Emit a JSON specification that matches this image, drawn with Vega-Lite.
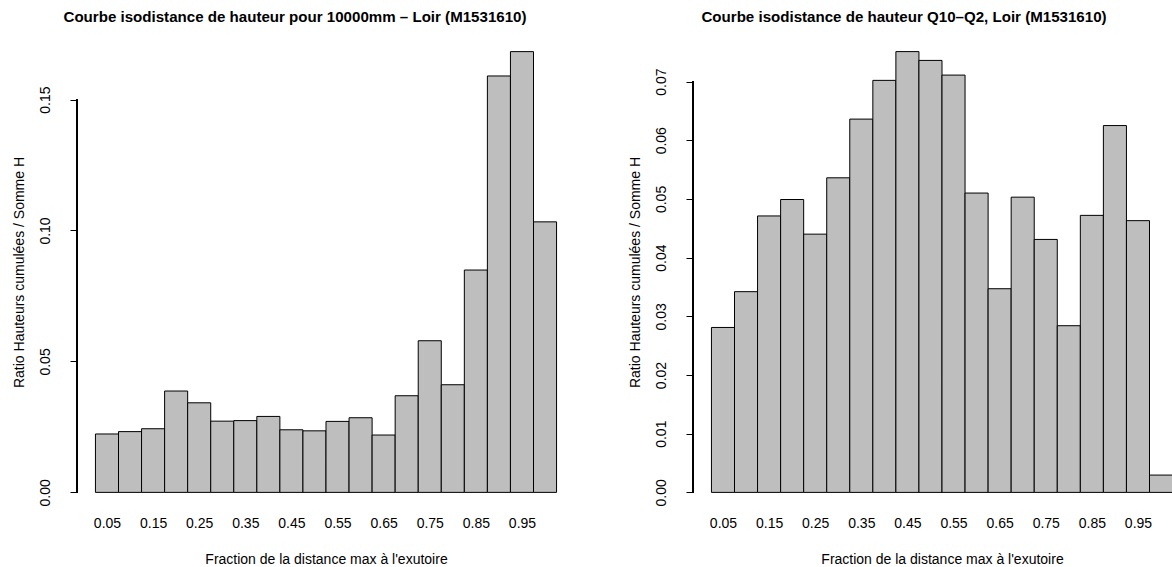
{
  "$schema": "https://vega.github.io/schema/vega-lite/v6.json",
  "background": "white",
  "padding": {"left": 12, "top": 9, "right": 0, "bottom": 0},
  "config": {
    "view": {"stroke": null},
    "font": "Liberation Sans",
    "axis": {"labelFont": "Liberation Sans", "labelFontSize": 14, "labelColor": "black", "titleFont": "Liberation Sans", "titleFontSize": 14, "titleFontWeight": "normal", "titleColor": "black", "tickColor": "black", "tickWidth": 1, "domainColor": "black", "grid": false, "labelOverlap": false, "labelFlush": false},
    "title": {"font": "Liberation Sans", "fontSize": 15.1, "fontWeight": "bold", "color": "black", "anchor": "middle"},
    "concat": {"spacing": 52}
  },
  "datasets": {
    "h10000": [
      {"from": 0.00, "to": 0.05, "ratio": 0.0223},
      {"from": 0.05, "to": 0.10, "ratio": 0.0232},
      {"from": 0.10, "to": 0.15, "ratio": 0.0243},
      {"from": 0.15, "to": 0.20, "ratio": 0.0387},
      {"from": 0.20, "to": 0.25, "ratio": 0.0342},
      {"from": 0.25, "to": 0.30, "ratio": 0.0272},
      {"from": 0.30, "to": 0.35, "ratio": 0.0274},
      {"from": 0.35, "to": 0.40, "ratio": 0.0290},
      {"from": 0.40, "to": 0.45, "ratio": 0.0239},
      {"from": 0.45, "to": 0.50, "ratio": 0.0235},
      {"from": 0.50, "to": 0.55, "ratio": 0.0271},
      {"from": 0.55, "to": 0.60, "ratio": 0.0285},
      {"from": 0.60, "to": 0.65, "ratio": 0.0219},
      {"from": 0.65, "to": 0.70, "ratio": 0.0369},
      {"from": 0.70, "to": 0.75, "ratio": 0.0579},
      {"from": 0.75, "to": 0.80, "ratio": 0.0411},
      {"from": 0.80, "to": 0.85, "ratio": 0.0849},
      {"from": 0.85, "to": 0.90, "ratio": 0.1590},
      {"from": 0.90, "to": 0.95, "ratio": 0.1683},
      {"from": 0.95, "to": 1.00, "ratio": 0.1033}
    ],
    "q10q2": [
      {"from": 0.00, "to": 0.05, "ratio": 0.0281},
      {"from": 0.05, "to": 0.10, "ratio": 0.0342},
      {"from": 0.10, "to": 0.15, "ratio": 0.0471},
      {"from": 0.15, "to": 0.20, "ratio": 0.0499},
      {"from": 0.20, "to": 0.25, "ratio": 0.0440},
      {"from": 0.25, "to": 0.30, "ratio": 0.0536},
      {"from": 0.30, "to": 0.35, "ratio": 0.0636},
      {"from": 0.35, "to": 0.40, "ratio": 0.0702},
      {"from": 0.40, "to": 0.45, "ratio": 0.0751},
      {"from": 0.45, "to": 0.50, "ratio": 0.0736},
      {"from": 0.50, "to": 0.55, "ratio": 0.0711},
      {"from": 0.55, "to": 0.60, "ratio": 0.0510},
      {"from": 0.60, "to": 0.65, "ratio": 0.0347},
      {"from": 0.65, "to": 0.70, "ratio": 0.0503},
      {"from": 0.70, "to": 0.75, "ratio": 0.0431},
      {"from": 0.75, "to": 0.80, "ratio": 0.0284},
      {"from": 0.80, "to": 0.85, "ratio": 0.0472},
      {"from": 0.85, "to": 0.90, "ratio": 0.0625},
      {"from": 0.90, "to": 0.95, "ratio": 0.0463},
      {"from": 0.95, "to": 1.00, "ratio": 0.00295}
    ]
  },
  "hconcat": [
    {
      "width": 498,
      "height": 476,
      "title": {"text": "Courbe isodistance de hauteur pour 10000mm – Loir (M1531610)", "offset": -3, "baseline": "alphabetic", "dx": -31},
      "data": {"name": "h10000"},
      "layer": [
        {
          "mark": {"type": "bar", "fill": "#BEBEBE", "stroke": "black", "strokeWidth": 1},
          "encoding": {
            "x": {"field": "from", "type": "quantitative", "scale": {"domain": [-0.04, 1.04], "nice": false, "zero": false},
              "axis": {"values": [0.025, 0.125, 0.225, 0.325, 0.425, 0.525, 0.625, 0.725, 0.825, 0.925], "labelExpr": "format(datum.value + 0.025, '.2f')", "domain": false, "ticks": false, "labelPadding": 6, "title": "Fraction de la distance max à l'exutoire", "titlePadding": 22}},
            "x2": {"field": "to"},
            "y": {"field": "ratio", "type": "quantitative", "scale": {"domain": [-0.00673, 0.17503], "nice": false, "zero": false},
              "axis": {"values": [0, 0.05, 0.1, 0.15], "format": ".2f", "domain": false, "tickSize": 7, "labelAngle": -90, "labelPadding": 18, "title": "Ratio Hauteurs cumulées / Somme H", "titlePadding": 12}},
            "y2": {"datum": 0}
          }
        },
        {
          "mark": {"type": "rule", "color": "black", "strokeWidth": 1},
          "encoding": {
            "x": {"datum": -0.04, "type": "quantitative"},
            "y": {"datum": 0, "type": "quantitative"},
            "y2": {"datum": 0.15}
          }
        }
      ]
    },
    {
      "width": 498,
      "height": 476,
      "title": {"text": "Courbe isodistance de hauteur Q10–Q2, Loir (M1531610)", "offset": -3, "baseline": "alphabetic", "dx": -38},
      "data": {"name": "q10q2"},
      "layer": [
        {
          "mark": {"type": "bar", "fill": "#BEBEBE", "stroke": "black", "strokeWidth": 1},
          "encoding": {
            "x": {"field": "from", "type": "quantitative", "scale": {"domain": [-0.04, 1.04], "nice": false, "zero": false},
              "axis": {"values": [0.025, 0.125, 0.225, 0.325, 0.425, 0.525, 0.625, 0.725, 0.825, 0.925], "labelExpr": "format(datum.value + 0.025, '.2f')", "domain": false, "ticks": false, "labelPadding": 6, "title": "Fraction de la distance max à l'exutoire", "titlePadding": 22}},
            "x2": {"field": "to"},
            "y": {"field": "ratio", "type": "quantitative", "scale": {"domain": [-0.003, 0.0781], "nice": false, "zero": false},
              "axis": {"values": [0, 0.01, 0.02, 0.03, 0.04, 0.05, 0.06, 0.07], "format": ".2f", "domain": false, "tickSize": 7, "labelAngle": -90, "labelPadding": 18, "title": "Ratio Hauteurs cumulées / Somme H", "titlePadding": 12}},
            "y2": {"datum": 0}
          }
        },
        {
          "mark": {"type": "rule", "color": "black", "strokeWidth": 1},
          "encoding": {
            "x": {"datum": -0.04, "type": "quantitative"},
            "y": {"datum": 0, "type": "quantitative"},
            "y2": {"datum": 0.07}
          }
        }
      ]
    }
  ]
}
